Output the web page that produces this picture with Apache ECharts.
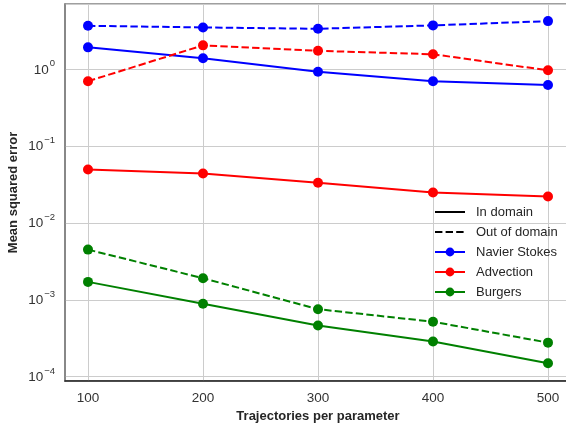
<!DOCTYPE html>
<html>
<head>
<meta charset="utf-8">
<script src="https://cdn.jsdelivr.net/npm/echarts@6/dist/echarts.min.js"></script>
<style>
  html, body { margin: 0; padding: 0; background: #fff; }
  #chart { width: 566px; height: 425px; }
</style>
</head>
<body>
<div id="chart"></div>
<script>
// trajectories per parameter
var trajectories = [100, 200, 300, 400, 500];

// mean squared error, in domain / out of domain
var nsIn = [1.93, 1.39, 0.93, 0.70, 0.625];
var nsOut = [3.68, 3.51, 3.37, 3.73, 4.24];
var advIn = [0.0497, 0.0441, 0.0334, 0.0249, 0.0221];
var advOut = [0.70, 2.05, 1.74, 1.57, 0.97];
var burgIn = [0.00171, 0.000887, 0.000464, 0.000287, 0.000149];
var burgOut = [0.0045, 0.00191, 0.000755, 0.000518, 0.000277];

var styleNames = ['In domain', 'Out of domain'];
var problemNames = ['Navier Stokes', 'Advection', 'Burgers'];

var FONT = '"Liberation Sans", Arial, sans-serif';

function pairs(vals) {
    var out = [];
    for (var i = 0; i < trajectories.length; i++) {
        out.push([trajectories[i], vals[i]]);
    }
    return out;
}

function lineSeries(name, color, vals, dashed) {
    return {
        name: name,
        type: 'line',
        data: pairs(vals),
        symbol: 'circle',
        symbolSize: 10,
        color: color,
        lineStyle: { width: 2, color: color, type: dashed ? [7.4, 3.2] : 'solid' },
        itemStyle: { color: color },
        z: 3
    };
}

// legend entries: the two line styles have no marker
var legendData = styleNames.map(function (n) {
    return { name: n, itemStyle: { color: 'rgba(0,0,0,0)', borderWidth: 0 } };
}).concat(problemNames);

var myChart = echarts.init(document.getElementById('chart'));

var option = {
    backgroundColor: '#fff',
    animation: false,
    textStyle: { fontFamily: FONT },
    grid: {
        left: 65,
        right: -5,
        top: 4,
        bottom: 44,
        outerBoundsMode: 'none',
        show: true,
        borderColor: '#808080',
        borderWidth: 1.5
    },
    legend: {
        orient: 'vertical',
        left: 429,
        top: 200,
        itemWidth: 30,
        itemHeight: 11,
        itemGap: 6,
        data: legendData,
        textStyle: { fontFamily: FONT, fontSize: 13, color: '#262626', lineHeight: 14, padding: [0, 0, 0, 6] }
    },
    xAxis: {
        type: 'value',
        min: 80,
        max: 520,
        name: 'Trajectories per parameter',
        nameLocation: 'middle',
        nameGap: 27,
        nameTextStyle: { fontFamily: FONT, fontSize: 13, fontWeight: 'bold', color: '#262626' },
        axisLine: { show: true, onZero: false, lineStyle: { color: '#222', width: 1.5 } },
        axisTick: { show: false, customValues: trajectories },
        axisLabel: {
            customValues: trajectories,
            margin: 10,
            fontSize: 13.5,
            color: '#333',
            fontFamily: FONT
        },
        splitLine: { show: true, lineStyle: { color: '#cccccc', width: 1 } }
    },
    yAxis: {
        type: 'log',
        logBase: 10,
        min: 8.77e-5,
        max: 7.08,
        name: 'Mean squared error',
        nameLocation: 'middle',
        nameGap: 45,
        nameMoveOverlap: false,
        nameTextStyle: { fontFamily: FONT, fontSize: 13, fontWeight: 'bold', color: '#262626' },
        axisLine: { show: true, lineStyle: { color: '#808080', width: 1.5 } },
        axisTick: { show: false },
        axisLabel: {
            margin: 10,
            formatter: function (v) {
                var lg = Math.log10(v);
                var e = Math.round(lg);
                if (Math.abs(lg - e) > 1e-4) return '';
                var ex = e < 0 ? '\u2212' + (-e) : String(e);
                return '{b|10}{s|' + ex + '}';
            },
            rich: {
                b: { fontSize: 13.5, color: '#333', fontFamily: FONT, verticalAlign: 'bottom', lineHeight: 15 },
                s: { fontSize: 9.5, color: '#333', fontFamily: FONT, verticalAlign: 'bottom', padding: [0, 0, 8, 1], lineHeight: 15 }
            }
        },
        splitLine: { show: true, lineStyle: { color: '#cccccc', width: 1 } }
    },
    series: [
        lineSeries('Navier Stokes', '#0000ff', nsIn, false),
        lineSeries('Navier Stokes', '#0000ff', nsOut, true),
        lineSeries('Advection', '#ff0000', advIn, false),
        lineSeries('Advection', '#ff0000', advOut, true),
        lineSeries('Burgers', '#008000', burgIn, false),
        lineSeries('Burgers', '#008000', burgOut, true),
        {
            name: 'In domain', type: 'line', data: [], symbol: 'none',
            color: '#000', lineStyle: { width: 2, color: '#000', type: 'solid' }
        },
        {
            name: 'Out of domain', type: 'line', data: [], symbol: 'none',
            color: '#000', lineStyle: { width: 2, color: '#000', type: [7.4, 3.2] }
        }
    ]
};

myChart.setOption(option);
</script>
</body>
</html>
